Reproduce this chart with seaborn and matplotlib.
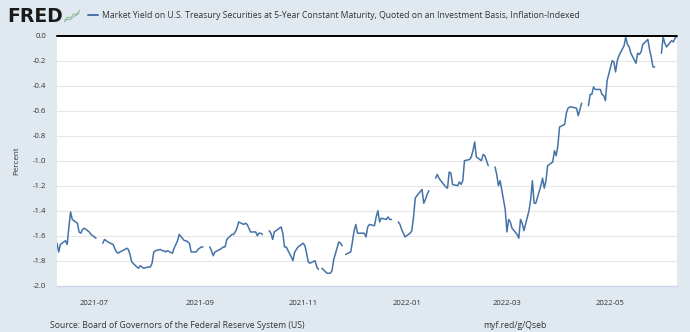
import numpy as np
import pandas as pd
import matplotlib
matplotlib.use("Agg")
import matplotlib.pyplot as plt
from matplotlib.lines import Line2D
import seaborn as sns

# ---------------- data ----------------
start_date = "2021-06-09"
end_date = "2022-06-09"
nan = np.nan

yield_2021_06 = [-1.66, -1.73, -1.67, -1.64, -1.67, -1.53, -1.41, -1.47,
                 -1.50, -1.57, -1.58, -1.55, -1.54, -1.57, -1.59, -1.60]
yield_2021_07 = [-1.61, -1.62, nan, -1.66, -1.63, -1.64, -1.65,
                 -1.67, -1.70, -1.73, -1.74, -1.73, -1.71, -1.70, -1.71, -1.75, -1.81,
                 -1.85, -1.86, -1.84, -1.85, -1.86]
yield_2021_08 = [-1.85, -1.85, -1.82, -1.73, -1.72, -1.71, -1.72, -1.72, -1.73, -1.72,
                 -1.74, -1.70, -1.67, -1.64, -1.59, -1.64, -1.64, -1.65, -1.66, -1.73,
                 -1.73, -1.71]
yield_2021_09 = [-1.70, -1.69, -1.69, nan, -1.69, -1.72, -1.76, -1.73,
                 -1.71, -1.70, -1.69, -1.69, -1.63, -1.59, -1.59, -1.57, -1.54, -1.49,
                 -1.51, -1.50, -1.51, -1.54]
yield_2021_10 = [-1.57, -1.57, -1.60, -1.58, -1.58, -1.59, nan, -1.56, -1.58, -1.63, -1.57,
                 -1.54, -1.53, -1.58, -1.69, -1.69, -1.77, -1.80, -1.73, -1.71, -1.69]
yield_2021_11 = [-1.66, -1.68, -1.74, -1.81, -1.82, -1.80, -1.85, -1.87, nan, -1.86,
                 -1.90, -1.90, -1.90, -1.88, -1.79, -1.65, -1.66, -1.68, nan, -1.75,
                 -1.73, -1.65]
yield_2021_12 = [-1.56, -1.51, -1.58, -1.58, -1.58, -1.61, -1.53, -1.51,
                 -1.52, -1.45, -1.40, -1.49, -1.46, -1.47, -1.45, -1.47, -1.47, nan,
                 -1.49, -1.51, -1.55, -1.58, -1.61]
yield_2022_01 = [-1.58, -1.56, -1.45, -1.30, -1.28, -1.23, -1.34, -1.31, -1.27, -1.24,
                 nan, -1.14, -1.11, -1.14, -1.16, -1.21, -1.22, -1.09, -1.10, -1.19,
                 -1.20]
yield_2022_02 = [-1.17, -1.19, -1.16, -1.00, -0.99, -0.97, -0.92, -0.85, -0.97,
                 -1.00, -0.95, -0.96, -1.00, -1.04, nan, -1.05, -1.11, -1.20, -1.16,
                 -1.39]
yield_2022_03 = [-1.57, -1.47, -1.49, -1.54, -1.59, -1.62, -1.47, -1.50, -1.56,
                 -1.40, -1.31, -1.16, -1.34, -1.34, -1.20, -1.14, -1.22, -1.16, -1.04,
                 -1.01, -0.92, -0.96, -0.88]
yield_2022_04 = [-0.73, -0.71, -0.62, -0.58, -0.57, -0.57, -0.58, -0.64, -0.59, -0.54, nan,
                 -0.56, -0.47, -0.47, -0.41, -0.43, -0.43, -0.47, -0.48, -0.52, -0.36]
yield_2022_05 = [-0.20, -0.21, -0.29, -0.20, -0.16, -0.08, -0.01, -0.07, -0.09, -0.14,
                 -0.22, -0.14, -0.15, -0.13, -0.07, -0.03, -0.11, -0.17, -0.25, -0.25,
                 nan, -0.14]
yield_2022_06 = [-0.01, -0.06, -0.09, -0.04, -0.05, -0.02, -0.01]

y_ticks = [0.0, -0.2, -0.4, -0.6, -0.8, -1.0, -1.2, -1.4, -1.6, -1.8, -2.0]
y_tick_labels = ["0.0", "-0.2", "-0.4", "-0.6", "-0.8", "-1.0", "-1.2", "-1.4",
                 "-1.6", "-1.8", "-2.0"]
x_tick_dates = ["2021-07-01", "2021-09-01", "2021-11-01", "2022-01-01",
                "2022-03-01", "2022-05-01"]
x_tick_labels = ["2021-07", "2021-09", "2021-11", "2022-01", "2022-03", "2022-05"]

series_title = ("Market Yield on U.S. Treasury Securities at 5-Year Constant Maturity, "
                "Quoted on an Investment Basis, Inflation-Indexed")
source_text = "Source: Board of Governors of the Federal Reserve System (US)"
short_url = "myf.red/g/Qseb"

# small decorative logo glyph (FRED's chart icon)
logo_icon_a = [0.1, 0.35, 0.3, 0.6, 0.55, 0.9]
logo_icon_b = [0.0, 0.2, 0.15, 0.4, 0.5, 0.7]

# ---------------- build frame ----------------
values = (yield_2021_06 + yield_2021_07 + yield_2021_08 + yield_2021_09 +
          yield_2021_10 + yield_2021_11 + yield_2021_12 + yield_2022_01 +
          yield_2022_02 + yield_2022_03 + yield_2022_04 + yield_2022_05 +
          yield_2022_06)
dates = pd.bdate_range(start_date, end_date)
n = min(len(dates), len(values))
df = pd.DataFrame({"date": dates[:n], "value": values[:n]})
df["segment"] = df["value"].isna().cumsum()
df = df.dropna()

# ---------------- style ----------------
sns.set_style("white")
plt.rcParams["font.family"] = ["Open Sans", "DejaVu Sans"]
plt.rcParams["axes.unicode_minus"] = False

BG = "#e1e9f0"
LINE = "#4572a7"
TXT = "#333333"

W, H = 690, 332
fig = plt.figure(figsize=(W / 100, H / 100), dpi=100, facecolor=BG)
left, right, top, bottom = 57, 676.7, 35.7, 285.7
ax = fig.add_axes([left / W, 1 - bottom / H, (right - left) / W, (bottom - top) / H])
ax.set_facecolor("white")

sns.lineplot(data=df, x="date", y="value", units="segment", estimator=None,
             color=LINE, linewidth=1.1, ax=ax, legend=False, zorder=4)

ax.set_ylim(-2.0, 0.0)
ax.set_yticks(y_ticks)
ax.set_yticklabels(y_tick_labels)
ax.set_xlim(df["date"].iloc[0], df["date"].iloc[-1])
ax.set_xticks(pd.to_datetime(x_tick_dates))
ax.set_xticklabels(x_tick_labels)

ax.grid(axis="y", color="#e6e6e6", linewidth=0.8)
ax.grid(axis="x", visible=False)
ax.axhline(0.0, color="black", linewidth=1.4, clip_on=False, zorder=5)
for s in ["left", "right", "top"]:
    ax.spines[s].set_visible(False)
ax.spines["bottom"].set_color("#ccd6eb")
ax.spines["bottom"].set_linewidth(1.0)

ax.tick_params(axis="y", length=0, pad=8, labelsize=5.6, labelcolor=TXT)
ax.tick_params(axis="x", length=5, width=0.8, color="#ccd6eb", pad=5,
               labelsize=5.6, labelcolor=TXT)
ax.set_xlabel("")
ax.set_ylabel("Percent", fontsize=5.8, color=TXT)
ax.yaxis.set_label_coords((20 - left) / (right - left), 0.5)

# ---------------- header ----------------
fig.text(7 / W, 1 - 16 / H, "FRED", fontsize=13.5, fontweight="heavy",
         family=["DejaVu Sans"], color="#1a1a1a", va="center", ha="left")
icon_ax = fig.add_axes([64 / W, 1 - 23 / H, 16 / W, 14 / H])
icon_ax.plot(range(len(logo_icon_a)), logo_icon_a, color="#8cc084", lw=0.8)
icon_ax.plot(range(len(logo_icon_b)), logo_icon_b, color="#9aa8b8", lw=0.6)
icon_ax.set_xlim(-0.2, len(logo_icon_a) - 0.8)
icon_ax.set_ylim(-0.1, 1.0)
icon_ax.axis("off")
fig.add_artist(Line2D([88 / W, 98 / W], [1 - 15 / H, 1 - 15 / H],
                      color=LINE, linewidth=1.4))
fig.text(102 / W, 1 - 15 / H, series_title, fontsize=6.2, color=TXT,
         va="center", ha="left")

# ---------------- footer ----------------
fig.text(50 / W, 1 - 326 / H, source_text, fontsize=6.25, color=TXT,
         va="center", ha="left")
fig.text(483 / W, 1 - 326 / H, short_url, fontsize=6.25, color=TXT,
         va="center", ha="left")

fig.savefig("out.png", dpi=100, facecolor=BG)
